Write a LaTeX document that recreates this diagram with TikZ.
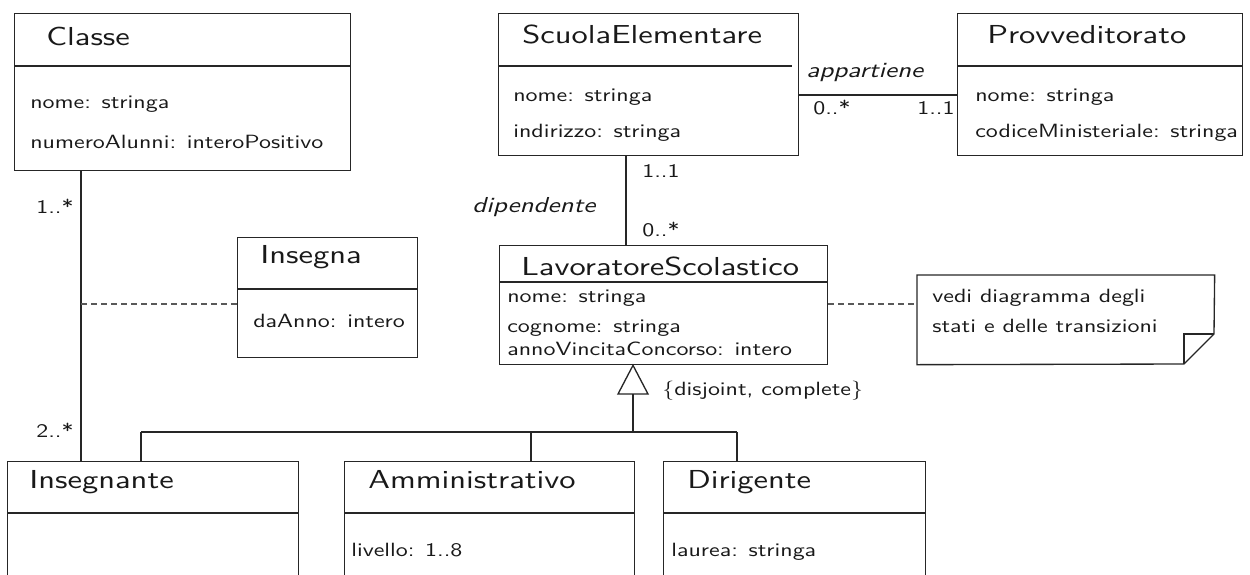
\documentclass[tikz,border=0pt]{standalone}
\usepackage{fontspec}
\newfontfamily\umlfont{lmsans10-regular.otf}[FakeStretch=1.25, ItalicFont=lmsans10-oblique.otf]
\begin{document}
\begin{tikzpicture}[x=0.6pt,y=-0.6pt,
  ln/.style={draw=black!85, line width=0.8pt},
  box/.style={ln, fill=white, inner sep=0pt, anchor=north west},
  dsh/.style={draw=black!65, line width=0.7pt, dash pattern=on 3.6pt off 2.4pt},
  ttl/.style={font=\umlfont\fontsize{15.6}{18}\selectfont, text=black!90, inner sep=0pt, anchor=base west},
  attr/.style={font=\umlfont\fontsize{11.5}{13}\selectfont, text=black!90, inner sep=0pt, anchor=base west},
  role/.style={font=\umlfont\itshape\fontsize{13}{15}\selectfont, text=black!90, inner sep=0pt, anchor=base west}]
\newcommand\umlclass[6]{%
  \node[box, minimum width={(#4-#2)*0.6pt}, minimum height={(#5-#3)*0.6pt}] (#1) at (#2,#3) {};
  \draw[ln] (#2,#6) -- (#4,#6);}
\useasboundingbox (0,0) rectangle (1250,574);
\clip (0,0) rectangle (1250,574);
% classes
\umlclass{classe}{14}{13}{350}{170}{66}
\node[ttl] (tclasse) at (46,45) {Classe};
\node[attr] (a1) at (30,108) {nome: stringa};
\node[attr] (a2) at (30,148) {numeroAlunni: interoPositivo};

\node[box, minimum width={(798-498)*0.6pt}, minimum height={(155-13)*0.6pt}] (scuola) at (498,13) {};
\draw[ln] (498,66) -- (792,66);
\node[ttl] (tscuola) at (522,43) {ScuolaElementare};
\node[attr] (a3) at (513,101) {nome: stringa};
\node[attr] (a4) at (513,137) {indirizzo: stringa};

\umlclass{provv}{957}{13}{1242}{155}{66}
\node[ttl] (tprovv) at (987,43) {Provveditorato};
\node[attr] (a5) at (975,101) {nome: stringa};
\node[attr] (a6) at (975,137) {codiceMinisteriale: stringa};

\umlclass{insegna}{237}{237}{417}{357}{289}
\node[ttl] (tinsegna) at (260,263) {Insegna};
\node[attr] (a7) at (253,327) {daAnno: intero};

\umlclass{lav}{499}{245}{827}{364}{282}
\node[ttl] (tlav) at (521,275) {LavoratoreScolastico};
\node[attr] (a8) at (507,302) {nome: stringa};
\node[attr] (a9) at (507,332) {cognome: stringa};
\node[attr] (a10) at (507,355) {annoVincitaConcorso: intero};

\umlclass{insegnante}{7}{461}{298}{620}{513}
\node[ttl] (tinsegnante) at (29,488) {Insegnante};

\umlclass{amm}{344}{461}{634}{620}{513}
\node[ttl] (tamm) at (368,488) {Amministrativo};
\node[attr] (a11) at (351,556) {livello: 1..8};

\umlclass{dir}{663}{461}{925}{620}{513}
\node[ttl] (tdir) at (687,488) {Dirigente};
\node[attr] (a12) at (671,556) {laurea: stringa};

% note
\node[inner sep=0pt, anchor=north west, minimum width={(1214-917)*0.6pt}, minimum height={(364-275)*0.6pt}] (note) at (917,275) {};
\coordinate (fold1) at (1214,334);
\coordinate (fold2) at (1184,364);
\draw[ln] (note.north west) -- (note.north east) -- (fold1) -- (fold2) -- (note.south west) -- cycle;
\draw[ln] (fold1) -- (fold1 -| fold2) -- (fold2);
\node[attr] (n1) at (932,302) {vedi diagramma degli};
\node[attr] (n2) at (932,332) {stati e delle transizioni};

% helper coordinates
\coordinate (x81) at (81,0);
\coordinate (x141) at (141,0);
\coordinate (x531) at (531,0);
\coordinate (x626) at (626,0);
\coordinate (x633) at (633,0);
\coordinate (x737) at (737,0);
\coordinate (y95) at (0,95);
\coordinate (y304) at (0,304);
\coordinate (ybar) at (0,432);
\coordinate (ytri) at (0,394);

% Classe -- Insegnante association with association class
\draw[ln] (classe.south -| x81) -- (insegnante.north -| x81);
\draw[dsh] (x81 |- y304) -- (insegna.west |- y304);
\node[attr] (m1) at (36,213) {1..*};
\node[attr] (m2) at (36,437) {2..*};

% ScuolaElementare -- Provveditorato
\draw[ln] (scuola.east |- y95) -- (provv.west |- y95);
\node[role] (r1) at (806,77) {appartiene};
\node[attr] (m3) at (813,114) {0..*};
\node[attr] (m4) at (917,114) {1..1};

% ScuolaElementare -- LavoratoreScolastico
\draw[ln] (scuola.south -| x626) -- (lav.north -| x626);
\node[attr] (m5) at (642,177) {1..1};
\node[role] (r2) at (472,212) {dipendente};
\node[attr] (m6) at (642,236) {0..*};

% note link
\draw[dsh] (lav.east |- y304) -- (note.west |- y304);

% generalization
\coordinate (apex) at (lav.south -| x633);
\draw[ln, fill=white] (apex) -- (618,394) -- (648,394) -- cycle;
\draw[ln] (x633 |- ytri) -- (x633 |- ybar);
\draw[ln] (x141 |- ybar) -- (x737 |- ybar);
\draw[ln] (x141 |- ybar) -- (insegnante.north -| x141);
\draw[ln] (x531 |- ybar) -- (amm.north -| x531);
\draw[ln] (x737 |- ybar) -- (dir.north -| x737);
\node[attr] (c1) at (662,395) {\{disjoint, complete\}};
\end{tikzpicture}
\end{document}
